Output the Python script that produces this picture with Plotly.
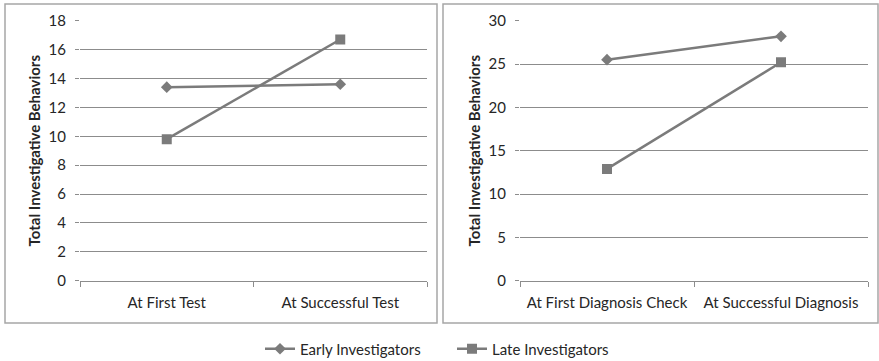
import plotly.graph_objects as go

W, H = 879, 361

# Panel categories
test_stages = ["At First Test", "At Successful Test"]
diag_stages = ["At First Diagnosis Check", "At Successful Diagnosis"]

# Series values
early_test = [13.4, 13.6]
late_test = [9.8, 16.7]
early_diag = [25.5, 28.2]
late_diag = [12.9, 25.2]

# Tick values
test_ticks = [0, 2, 4, 6, 8, 10, 12, 14, 16, 18]
diag_ticks = [0, 5, 10, 15, 20, 25, 30]

series_names = ["Early Investigators", "Late Investigators"]

LINE = "#7b7b7b"
GRID = "#8c8c8c"
TEXT = "#262626"
FONT = "Lato"
FS = 15


def px_x(p):
    return p / W


def px_y(p):
    return 1 - p / H


fig = go.Figure()

panels = [
    ("x", "y", test_stages, early_test, late_test, True),
    ("x2", "y2", diag_stages, early_diag, late_diag, False),
]
for xa, ya, cats, early, late, show in panels:
    fig.add_trace(go.Scatter(
        x=cats, y=early, xaxis=xa, yaxis=ya, mode="lines+markers",
        name=series_names[0], showlegend=show, legendgroup="e",
        line=dict(color=LINE, width=2.5),
        marker=dict(symbol="diamond", size=9, color=LINE),
    ))
    fig.add_trace(go.Scatter(
        x=cats, y=late, xaxis=xa, yaxis=ya, mode="lines+markers",
        name=series_names[1], showlegend=show, legendgroup="l",
        line=dict(color=LINE, width=2.5),
        marker=dict(symbol="square", size=10, color=LINE),
    ))

ydom = [px_y(280.7), px_y(20.7)]
common_x = dict(
    type="category", tickson="boundaries", range=[-0.5, 1.5],
    showline=True, linecolor=GRID, linewidth=1, ticks="outside", ticklen=5,
    tickcolor=GRID, showgrid=False, automargin=False, ticklabelstandoff=8,
    tickfont=dict(family=FONT, size=FS, color=TEXT), zeroline=False,
    fixedrange=True,
)
common_y = dict(
    showgrid=True, gridcolor=GRID, gridwidth=1, ticks="outside", ticklen=4,
    tickcolor=GRID, showline=False, zeroline=False, automargin=False,
    ticklabelstandoff=6,
    tickfont=dict(family=FONT, size=FS, color=TEXT),
    title=dict(text="<b>Total Investigative Behaviors</b>",
               font=dict(family=FONT, size=FS, color=TEXT), standoff=4),
)

fig.update_layout(
    width=W, height=H, autosize=False,
    margin=dict(l=0, r=0, t=0, b=0, autoexpand=False),
    paper_bgcolor="white", plot_bgcolor="white",
    xaxis=dict(domain=[px_x(80), px_x(427)], anchor="y", **common_x),
    yaxis=dict(domain=ydom, anchor="x", range=[0, 18], tickvals=test_ticks, **common_y),
    xaxis2=dict(domain=[px_x(520), px_x(868)], anchor="y2", **common_x),
    yaxis2=dict(domain=ydom, anchor="x2", range=[0, 30], tickvals=diag_ticks, **common_y),
    legend=dict(
        orientation="h", x=px_x(452), xanchor="center", y=px_y(349), yanchor="middle",
        font=dict(family=FONT, size=FS, color=TEXT), itemwidth=30,
        entrywidth=147, bgcolor="rgba(0,0,0,0)",
    ),
    showlegend=True,
    shapes=[
        dict(type="rect", xref="paper", yref="paper",
             x0=px_x(5), x1=px_x(437), y0=px_y(323), y1=px_y(4),
             line=dict(color="#a6a6a6", width=1.5)),
        dict(type="rect", xref="paper", yref="paper",
             x0=px_x(443), x1=px_x(878), y0=px_y(323), y1=px_y(4),
             line=dict(color="#a6a6a6", width=1.5)),
    ],
)

fig.write_html("out.html")
